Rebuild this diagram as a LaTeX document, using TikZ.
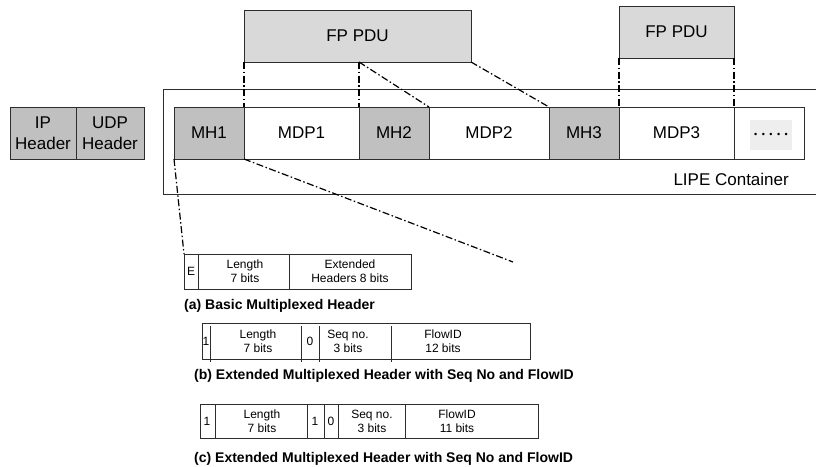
\documentclass[tikz,border=0pt]{standalone}
\usepackage{fontspec}
\setmainfont{Liberation Sans}
\usetikzlibrary{positioning}
\definecolor{hdrgray}{RGB}{192,192,192}
\definecolor{pdugray}{RGB}{217,217,217}
\definecolor{dotgray}{RGB}{238,238,238}
\definecolor{linegray}{RGB}{45,45,45}

\begin{document}
\begin{tikzpicture}[x=1pt, y=-1pt,
    cell/.style={rectangle, draw=linegray, line width=0.8pt, inner sep=0pt, outer sep=0pt, minimum height=52pt, align=center, font=\fontsize{17}{21}\selectfont},
    mh/.style={cell, fill=hdrgray, minimum width=70pt},
    mdp/.style={cell, fill=white},
    pdu/.style={cell, fill=pdugray},
    hdrframe/.style={rectangle, draw=linegray, line width=0.8pt, inner sep=0pt, outer sep=0pt, anchor=north west},
    divider/.style={draw=linegray, line width=0.8pt},
    bits/.style={align=center, inner sep=0pt, font=\fontsize{12}{14}\selectfont},
    subcap/.style={anchor=west, inner sep=0pt, font=\fontsize{14}{16}\selectfont\bfseries},
    zoomline/.style={line width=1.2pt, dash pattern=on 7pt off 2.5pt on 1.5pt off 2.5pt}
]
    \useasboundingbox (0,0) rectangle (816,466);
    \clip (0,0) rectangle (816,466);

    % LIPE container (runs off the right edge)
    \node[hdrframe, minimum width=680pt, minimum height=105pt] (lipe) at (163,89) {};
    \node[anchor=east, inner sep=0pt, font=\fontsize{17}{21}\selectfont] (lipelabel) at (789,179) {LIPE Container};

    % IP / UDP headers
    \node[cell, fill=hdrgray, minimum width=66pt, anchor=north west] (ip) at (10,107) {IP\\Header};
    \node[cell, fill=hdrgray, minimum width=68pt, right=0pt of ip] (udp) {UDP\\Header};

    % Multiplexed headers and payloads
    \node[mh, anchor=north west] (mh1) at (174,107) {MH1};
    \node[mdp, minimum width=115pt, right=0pt of mh1] (mdp1) {MDP1};
    \node[mh, right=0pt of mdp1] (mh2) {MH2};
    \node[mdp, minimum width=120pt, right=0pt of mh2] (mdp2) {MDP2};
    \node[mh, right=0pt of mdp2] (mh3) {MH3};
    \node[mdp, minimum width=115pt, right=0pt of mh3] (mdp3) {MDP3};
    \node[mdp, minimum width=70pt, right=0pt of mdp3] (more) {};
    \node[fill=dotgray, minimum width=42pt, minimum height=30pt, inner sep=0pt, font=\fontsize{9}{9}\selectfont] (dots) at (771,135) {•\hspace{4.5pt}•\hspace{4.5pt}•\hspace{4.5pt}•\hspace{4.5pt}•};

    % FP PDUs
    \node[pdu, minimum width=227pt, anchor=north west] (fp1) at (244,10) {FP PDU};
    \node[pdu, minimum width=115pt, anchor=north west] (fp2) at (619,6) {FP PDU};

    % PDU to container mapping
    \coordinate (split) at (mh2.north west |- fp1.south);
    \draw[zoomline] (fp1.south west) -- (mdp1.north west);
    \draw[zoomline] (split) -- (mh2.north west);
    \draw[zoomline] (split) -- (mh2.north east);
    \draw[zoomline] (fp1.south east) -- (mh3.north west);
    \draw[zoomline] (fp2.south west) -- (mdp3.north west);
    \draw[zoomline] (fp2.south east) -- (more.north west);

    % (a) basic header
    \node[hdrframe, minimum width=227pt, minimum height=35pt] (hdra) at (184,254) {};
    \foreach \x in {198,289} \draw[divider] (\x,254) -- (\x,289);
    \node[bits] (a-e) at (191,271.5) {E};
    \node[bits] (a-len) at (245,271.5) {Length\\7 bits};
    \node[bits] (a-ext) at (350,271.5) {Extended\\Headers 8 bits};
    \node[subcap] (capa) at (184,306) {(a) Basic Multiplexed Header};

    % zoom from MH1
    \coordinate (zoomend) at (513,262);
    \draw[zoomline] (mh1.south west) -- (hdra.north west);
    \draw[zoomline] (mh1.south east) -- (zoomend);

    % (b) extended header, 12 bit flow id
    \node[hdrframe, minimum width=328pt, minimum height=36pt] (hdrb) at (202,323) {};
    \foreach \x in {210,301,319,391} \draw[divider] (\x,326) -- (\x,362);
    \node[bits] (b-one) at (206,341) {1};
    \node[bits] (b-len) at (258,341) {Length\\7 bits};
    \node[bits] (b-zero) at (310,341) {0};
    \node[bits] (b-seq) at (348,341) {Seq no.\\3 bits};
    \node[bits] (b-flow) at (443,341) {FlowID\\12 bits};
    \node[subcap] (capb) at (194,376) {(b) Extended Multiplexed Header with Seq No and FlowID};

    % (c) extended header, 11 bit flow id
    \node[hdrframe, minimum width=338pt, minimum height=34pt] (hdrc) at (200,404) {};
    \foreach \x in {215,307,324,338,405} \draw[divider] (\x,404) -- (\x,438);
    \node[bits] (c-one) at (207,421) {1};
    \node[bits] (c-len) at (262,421) {Length\\7 bits};
    \node[bits] (c-ext) at (315,421) {1};
    \node[bits] (c-zero) at (331,421) {0};
    \node[bits] (c-seq) at (372,421) {Seq no.\\3 bits};
    \node[bits] (c-flow) at (457,421) {FlowID\\11 bits};
    \node[subcap] (capc) at (194,459) {(c) Extended Multiplexed Header with Seq No and FlowID};
\end{tikzpicture}
\end{document}
